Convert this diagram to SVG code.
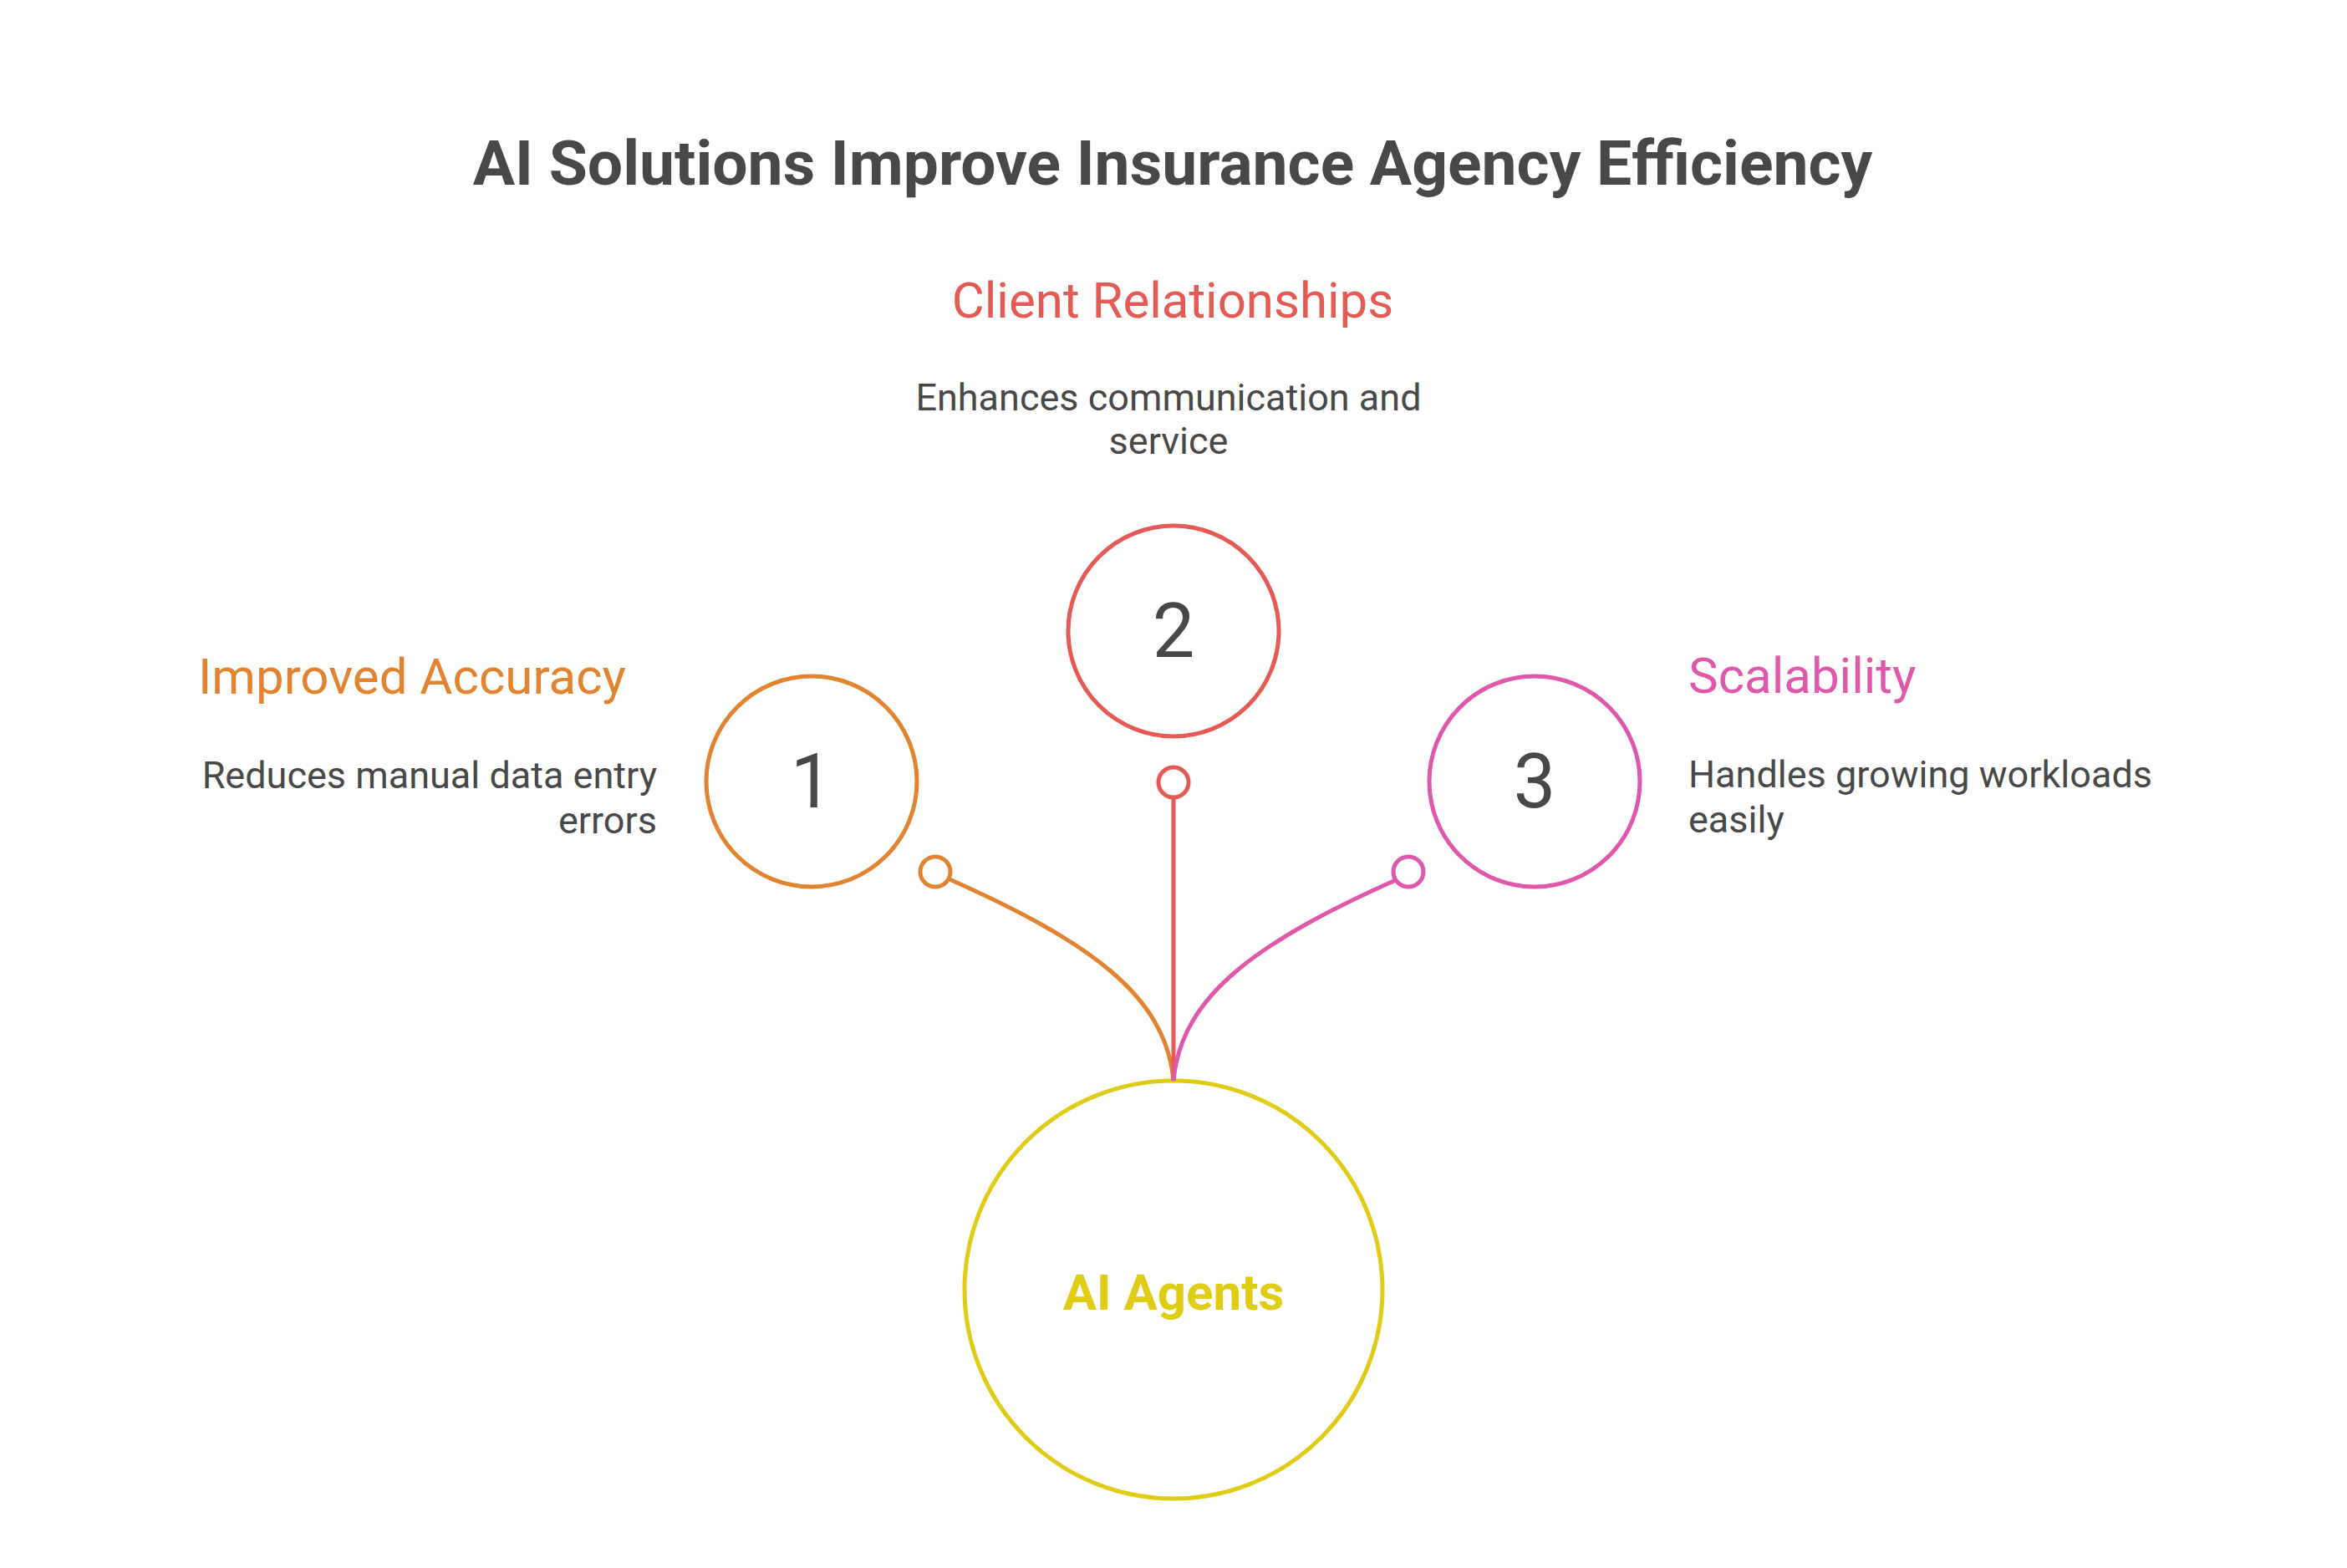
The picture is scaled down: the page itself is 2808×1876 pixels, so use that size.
<svg xmlns="http://www.w3.org/2000/svg" width="2808" height="1876" viewBox="0 0 2808 1876">
<style>
text{font-family:Roboto,"Liberation Sans",Arial,sans-serif;}
.title{font-size:75px;font-weight:700;fill:#484848;}
.label{font-size:60px;font-weight:400;}
.desc{font-size:45px;font-weight:400;fill:#484848;}
.num{font-size:90px;font-weight:400;fill:#484848;text-anchor:middle;}
.ring{fill:#ffffff;stroke-width:5;}
.dot{fill:#ffffff;stroke-width:5;}
.wire{fill:none;stroke-width:5;}
.o{stroke:#E2842F;} .r{stroke:#E65A55;} .p{stroke:#E058AC;} .y{stroke:#E0CB15;}
</style>
<rect width="2808" height="1876" fill="#ffffff"/>
<text id="title" class="title" x="1403" y="221" text-anchor="middle">AI Solutions Improve Insurance Agency Efficiency</text>
<g id="node-ai-agents">
<circle class="ring y" cx="1404" cy="1543" r="250"/>
<text x="1404" y="1567" text-anchor="middle" style="font-size:60px;font-weight:700;fill:#E0CB15">AI Agents</text>
</g>
<g id="connectors">
<path class="wire o" d="M1136,1052 C1300,1125 1395,1190 1404,1293"/>
<path class="wire r" d="M1404,954 L1404,1293"/>
<path class="wire p" d="M1672,1052 C1508,1125 1413,1190 1404,1293"/>
<circle class="dot o" cx="1119" cy="1043" r="18"/>
<circle class="dot r" cx="1404" cy="936" r="18"/>
<circle class="dot p" cx="1685" cy="1043" r="18"/>
</g>
<g id="node-1">
<circle class="ring o" cx="971" cy="935" r="126"/>
<text class="num" x="971" y="966">1</text>
<text class="label" x="237" y="830" fill="#E2842F">Improved Accuracy</text>
<text class="desc" x="786" y="943" text-anchor="end">Reduces manual data entry</text>
<text class="desc" x="786" y="997" text-anchor="end">errors</text>
</g>
<g id="node-2">
<circle class="ring r" cx="1404" cy="755" r="126"/>
<text class="num" x="1404" y="786">2</text>
<text class="label" x="1403" y="380" fill="#E65A55" text-anchor="middle">Client Relationships</text>
<text class="desc" x="1398" y="491" text-anchor="middle">Enhances communication and</text>
<text class="desc" x="1398" y="543" text-anchor="middle">service</text>
</g>
<g id="node-3">
<circle class="ring p" cx="1836" cy="935" r="126"/>
<text class="num" x="1836" y="966">3</text>
<text class="label" x="2020" y="829" fill="#E058AC">Scalability</text>
<text class="desc" x="2020" y="942">Handles growing workloads</text>
<text class="desc" x="2020" y="996">easily</text>
</g>
</svg>
